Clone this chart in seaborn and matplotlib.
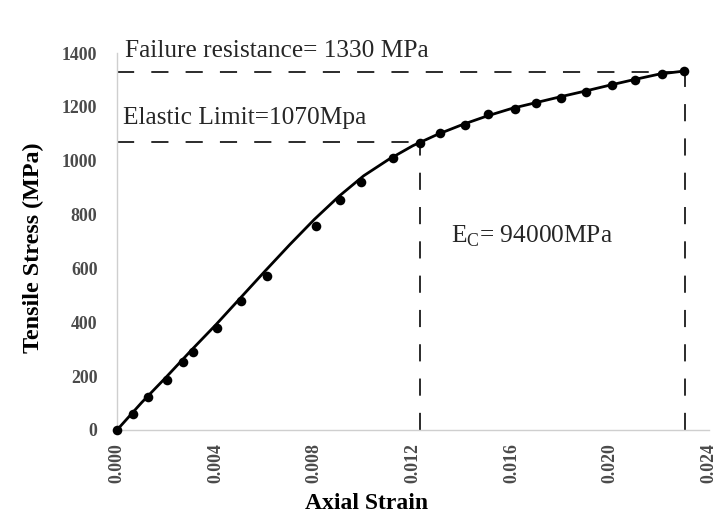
import matplotlib
matplotlib.use("Agg")
import matplotlib.pyplot as plt
import seaborn as sns
import pandas as pd

# Measured points
strain_pts = [0.0, 0.00065, 0.00127, 0.00201, 0.00269, 0.00307, 0.00407, 0.00501, 0.00608,
              0.00808, 0.00904, 0.00990, 0.01119, 0.01228, 0.01309, 0.01412, 0.01505,
              0.01615, 0.01698, 0.01799, 0.01901, 0.02008, 0.02101, 0.02209, 0.02298]
stress_pts = [0, 61, 123, 185, 252, 289, 379, 478, 572,
              758, 853, 922, 1009, 1067, 1102, 1134, 1172,
              1191, 1213, 1232, 1254, 1280, 1300, 1323, 1332]

# Fitted curve
strain_curve = [0.0, 0.001, 0.002, 0.003, 0.004, 0.005, 0.006, 0.007, 0.008, 0.009, 0.010,
                0.011, 0.012, 0.013, 0.014, 0.015, 0.016, 0.017, 0.018, 0.019, 0.020,
                0.021, 0.022, 0.023]
stress_curve = [0, 102, 197, 295, 390, 490, 590, 688, 782, 868, 944,
                1004, 1056, 1098, 1134, 1166, 1194, 1216, 1238, 1259, 1281,
                1302, 1322, 1333]

x_ticks = [0.000, 0.004, 0.008, 0.012, 0.016, 0.020, 0.024]
x_ticklabels = ["0.000", "0.004", "0.008", "0.012", "0.016", "0.020", "0.024"]
y_ticks = [0, 200, 400, 600, 800, 1000, 1200, 1400]

elastic_strain, elastic_stress = 0.01228, 1070
fail_strain, fail_stress = 0.02302, 1330

sns.set_style("white")
plt.rcParams['font.family'] = ['Liberation Serif', 'DejaVu Serif']

fig = plt.figure(figsize=(7.22, 5.15), dpi=100)
ax = fig.add_axes([117/722, 1 - 430/515, (709-117)/722, (430-53)/515])

pts = pd.DataFrame({"strain": strain_pts, "stress": stress_pts})
crv = pd.DataFrame({"strain": strain_curve, "stress": stress_curve})

sns.lineplot(data=crv, x="strain", y="stress", ax=ax, color="black", linewidth=2.0, zorder=3)
sns.scatterplot(data=pts, x="strain", y="stress", ax=ax, color="black", s=48,
                edgecolor="black", linewidth=0, zorder=4, clip_on=False)

dash = dict(color="#1a1a1a", linewidth=1.3, linestyle=(0, (9.5, 9.5)), zorder=2)
ax.plot([0, elastic_strain], [elastic_stress, elastic_stress], **dash)
ax.plot([elastic_strain, elastic_strain], [0, elastic_stress], **dash)
ax.plot([0, fail_strain], [fail_stress, fail_stress], **dash)
ax.plot([fail_strain, fail_strain], [0, fail_stress], **dash)

ax.set_xlim(0, 0.024)
ax.set_ylim(0, 1400)
ax.set_xticks(x_ticks)
ax.set_xticklabels(x_ticklabels, rotation=90, fontsize=12.8, fontweight="bold", color="#4a4a4a")
ax.set_yticks(y_ticks)
ax.set_yticklabels([str(v) for v in y_ticks], fontsize=12.8, fontweight="bold", color="#4a4a4a")
ax.tick_params(axis="both", length=0)
ax.tick_params(axis="x", pad=9.5)
ax.tick_params(axis="y", pad=14)

for s in ["top", "right"]:
    ax.spines[s].set_visible(False)
for s in ["left", "bottom"]:
    ax.spines[s].set_color("#cfcfcf")
    ax.spines[s].set_linewidth(1.0)

ax.set_xlabel("Axial Strain", fontsize=17, fontweight="bold", color="black")
ax.set_ylabel("Tensile Stress (MPa)", fontsize=17.4, fontweight="bold", color="black")
ax.xaxis.set_label_coords(0.422, -0.168)
ax.yaxis.set_label_coords(-0.123, 0.483)

ax.text(0.00032, 1387, "Failure resistance= 1330 MPa", fontsize=18.3, va="baseline", ha="left", clip_on=False)
ax.text(0.00025, 1135, "Elastic Limit=1070Mpa", fontsize=18.3, va="baseline", ha="left")
ax.text(0.01356, 695, r"E$_{\mathregular{C}}$= 94000MPa", fontsize=18.3, va="baseline", ha="left")

fig.savefig("out.png", dpi=100)
